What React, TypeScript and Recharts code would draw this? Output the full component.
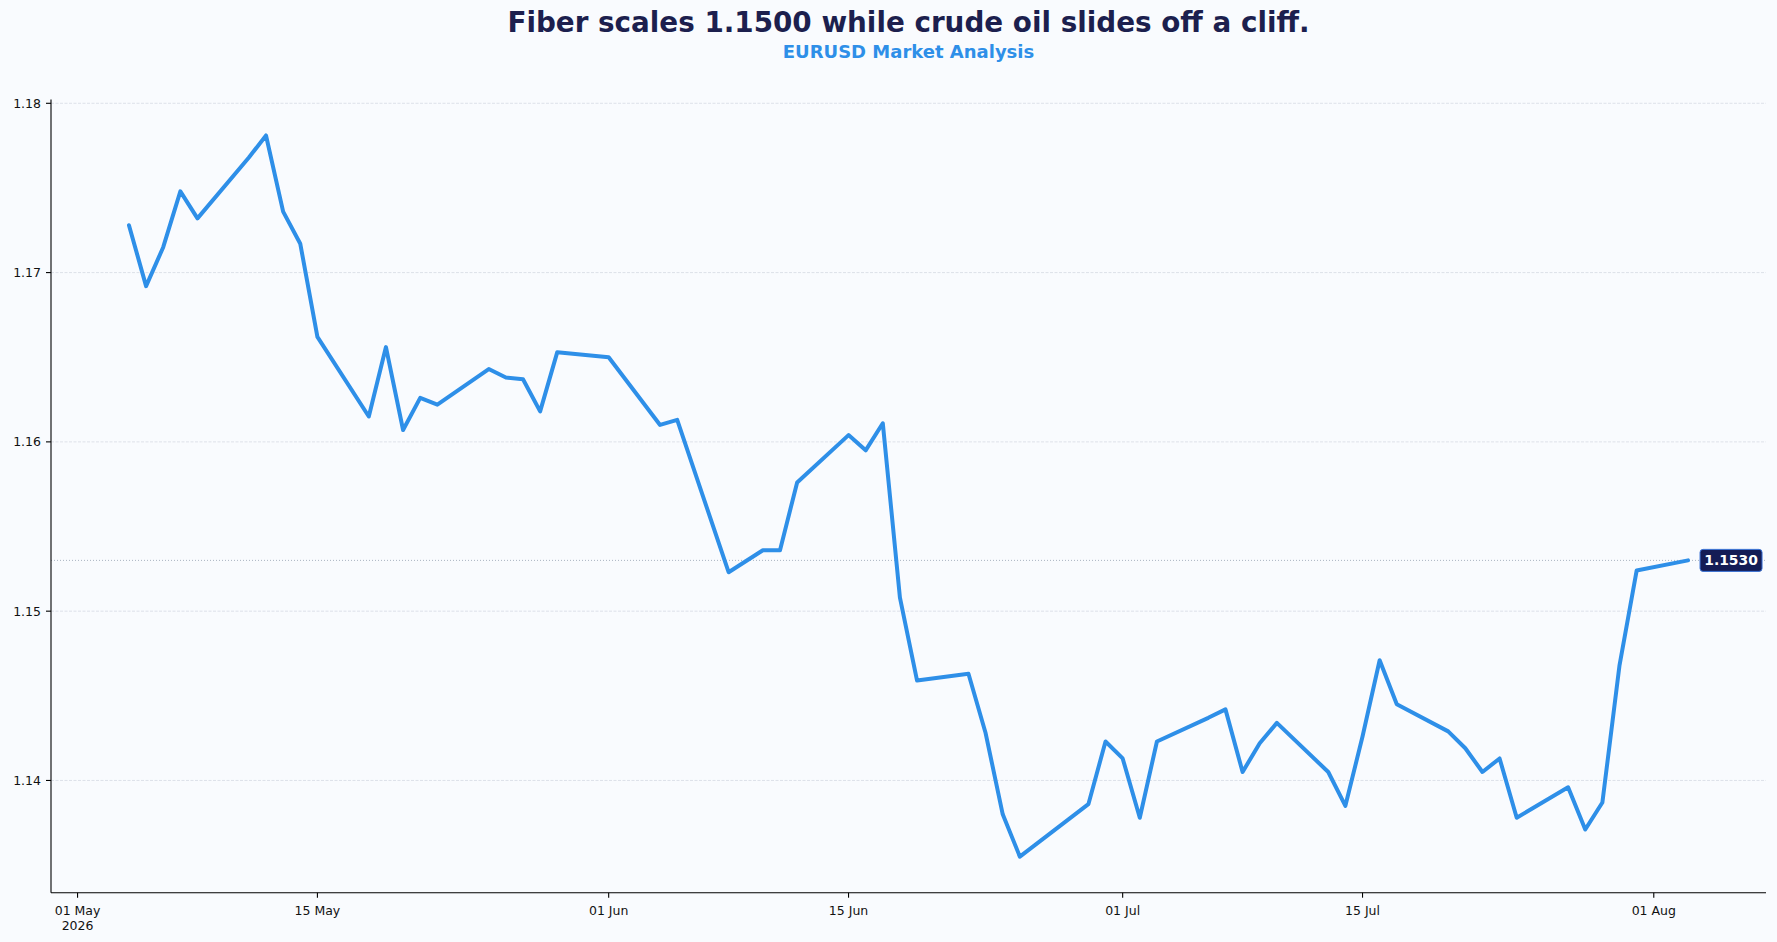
import React from "react";
import {
  LineChart,
  Line,
  XAxis,
  YAxis,
  ReferenceLine,
  ReferenceDot,
} from "recharts";

const TITLE = "Fiber scales 1.1500 while crude oil slides off a cliff.";
const SUBTITLE = "EURUSD Market Analysis";

const dates: string[] = [
  "2026-05-04", "2026-05-05", "2026-05-06", "2026-05-07", "2026-05-08",
  "2026-05-11", "2026-05-12", "2026-05-13", "2026-05-14", "2026-05-15",
  "2026-05-18", "2026-05-19", "2026-05-20", "2026-05-21", "2026-05-22",
  "2026-05-25", "2026-05-26", "2026-05-27", "2026-05-28", "2026-05-29",
  "2026-06-01", "2026-06-04", "2026-06-05",
  "2026-06-08", "2026-06-10", "2026-06-11", "2026-06-12",
  "2026-06-15", "2026-06-16", "2026-06-17", "2026-06-18", "2026-06-19",
  "2026-06-22", "2026-06-23", "2026-06-24", "2026-06-25",
  "2026-06-29", "2026-06-30", "2026-07-01", "2026-07-02", "2026-07-03",
  "2026-07-06", "2026-07-07", "2026-07-08", "2026-07-09", "2026-07-10",
  "2026-07-13", "2026-07-14", "2026-07-15", "2026-07-16", "2026-07-17",
  "2026-07-20", "2026-07-21", "2026-07-22", "2026-07-23", "2026-07-24",
  "2026-07-27", "2026-07-28", "2026-07-29", "2026-07-30", "2026-07-31",
  "2026-08-03",
];

const closes: number[] = [
  1.1728, 1.1692, 1.1715, 1.1748, 1.1732,
  1.1768, 1.1781, 1.1736, 1.1717, 1.1662,
  1.1615, 1.1656, 1.1607, 1.1626, 1.1622,
  1.1643, 1.1638, 1.1637, 1.1618, 1.1653,
  1.1650, 1.1610, 1.1613,
  1.1523, 1.1536, 1.1536, 1.1576,
  1.1604, 1.1595, 1.1611, 1.1508, 1.1459,
  1.1463, 1.1428, 1.1380, 1.1355,
  1.1386, 1.1423, 1.1413, 1.1378, 1.1423,
  1.1437, 1.1442, 1.1405, 1.1422, 1.1434,
  1.1405, 1.1385, 1.1426, 1.1471, 1.1445,
  1.1429, 1.1419, 1.1405, 1.1413, 1.1378,
  1.1396, 1.1371, 1.1387, 1.1468, 1.1524,
  1.1530,
];

const xTickDates: string[] = [
  "2026-05-01", "2026-05-15", "2026-06-01", "2026-06-15",
  "2026-07-01", "2026-07-15", "2026-08-01",
];
const xTickLabels: string[] = [
  "01 May", "15 May", "01 Jun", "15 Jun", "01 Jul", "15 Jul", "01 Aug",
];
const xTickYear = "2026";

const yTicks: number[] = [1.14, 1.15, 1.16, 1.17, 1.18];

const toT = (s: string) => Date.parse(s + "T00:00:00Z");

const data = dates.map((d, i) => ({ t: toT(d), v: closes[i] }));
const xTicks = xTickDates.map(toT);

const tMin = data[0].t;
const tMax = data[data.length - 1].t;
const tPad = (tMax - tMin) * 0.05;
const vMin = Math.min(...closes);
const vMax = Math.max(...closes);
const vPad = (vMax - vMin) * 0.05;

const last = data[data.length - 1];

const FONT = "'DejaVu Sans', 'Liberation Sans', sans-serif";
const LINE_COLOR = "#2E8FE8";

const XTick = (props: any) => {
  const { x, y, payload, index } = props;
  const i = xTicks.indexOf(payload.value);
  const idx = i >= 0 ? i : index;
  return (
    <g>
      <text
        x={x}
        y={y + 17}
        textAnchor="middle"
        fontSize={12.5}
        fill="#111"
        fontFamily={FONT}
      >
        {xTickLabels[idx]}
      </text>
      {idx === 0 && (
        <text
          x={x}
          y={y + 32}
          textAnchor="middle"
          fontSize={12.5}
          fill="#111"
          fontFamily={FONT}
        >
          {xTickYear}
        </text>
      )}
    </g>
  );
};

const LastLabel = (props: any) => {
  const { cx, cy } = props;
  if (cx == null || cy == null) return null;
  const bx = cx + 12;
  return (
    <g>
      <rect
        x={bx}
        y={cy - 11}
        width={62}
        height={22}
        rx={3}
        ry={3}
        fill="#141C55"
        stroke="#3A72D6"
        strokeWidth={1}
      />
      <text
        x={bx + 31}
        y={cy + 5}
        textAnchor="middle"
        fontSize={13.9}
        fontWeight="bold"
        fill="#ffffff"
        fontFamily={FONT}
      >
        {last.v.toFixed(4)}
      </text>
    </g>
  );
};

export default function App() {
  return (
    <div
      style={{
        position: "absolute",
        left: 0,
        top: 0,
        width: 1777,
        height: 942,
        background: "#F9FBFE",
        fontFamily: FONT,
      }}
    >
      <div
        style={{
          position: "absolute",
          left: 0,
          width: 1817,
          top: 5,
          textAlign: "center",
          fontSize: 27.8,
          fontWeight: "bold",
          color: "#1C1F4E",
          lineHeight: "35px",
          whiteSpace: "nowrap",
        }}
      >
        {TITLE}
      </div>
      <div
        style={{
          position: "absolute",
          left: 0,
          width: 1817,
          top: 41,
          textAlign: "center",
          fontSize: 18,
          fontWeight: "bold",
          color: "#2E8FE8",
          lineHeight: "22px",
          whiteSpace: "nowrap",
        }}
      >
        {SUBTITLE}
      </div>
      <div style={{ position: "absolute", left: 0, top: 0 }}>
        <LineChart
          width={1777}
          height={942}
          data={data}
          margin={{ top: 99.4, right: 11, bottom: 0, left: 0 }}
        >
          <XAxis
            dataKey="t"
            type="number"
            domain={[tMin - tPad, tMax + tPad]}
            allowDataOverflow={true}
            ticks={xTicks}
            interval={0}
            tick={<XTick />}
            tickSize={5}
            tickMargin={0}
            height={49.3}
            axisLine={{ stroke: "#000", strokeWidth: 1.1 }}
            tickLine={{ stroke: "#000", strokeWidth: 1.1 }}
          />
          <YAxis
            type="number"
            domain={[vMin - vPad, vMax + vPad]}
            allowDataOverflow={true}
            ticks={yTicks}
            interval={0}
            tickFormatter={(v: number) => v.toFixed(2)}
            tick={{ fontSize: 12.5, fill: "#111", fontFamily: FONT }}
            tickSize={5}
            tickMargin={5}
            width={51}
            axisLine={{ stroke: "#000", strokeWidth: 1.1 }}
            tickLine={{ stroke: "#000", strokeWidth: 1.1 }}
          />
          {yTicks.map((v) => (
            <ReferenceLine
              key={v}
              y={v}
              stroke="#D5DBE3"
              strokeWidth={0.8}
              strokeDasharray="3 1.5"
            />
          ))}
          <ReferenceLine
            y={last.v}
            stroke="#A9B3C1"
            strokeWidth={1}
            strokeDasharray="1 2"
          />
          <Line
            type="linear"
            dataKey="v"
            stroke={LINE_COLOR}
            strokeWidth={4}
            strokeLinejoin="round"
            strokeLinecap="round"
            dot={false}
            activeDot={false}
            isAnimationActive={false}
          />
          <ReferenceDot
            x={last.t}
            y={last.v}
            r={0}
            ifOverflow="visible"
            shape={(p: any) => <LastLabel cx={p.cx} cy={p.cy} />}
          />
        </LineChart>
      </div>
    </div>
  );
}
